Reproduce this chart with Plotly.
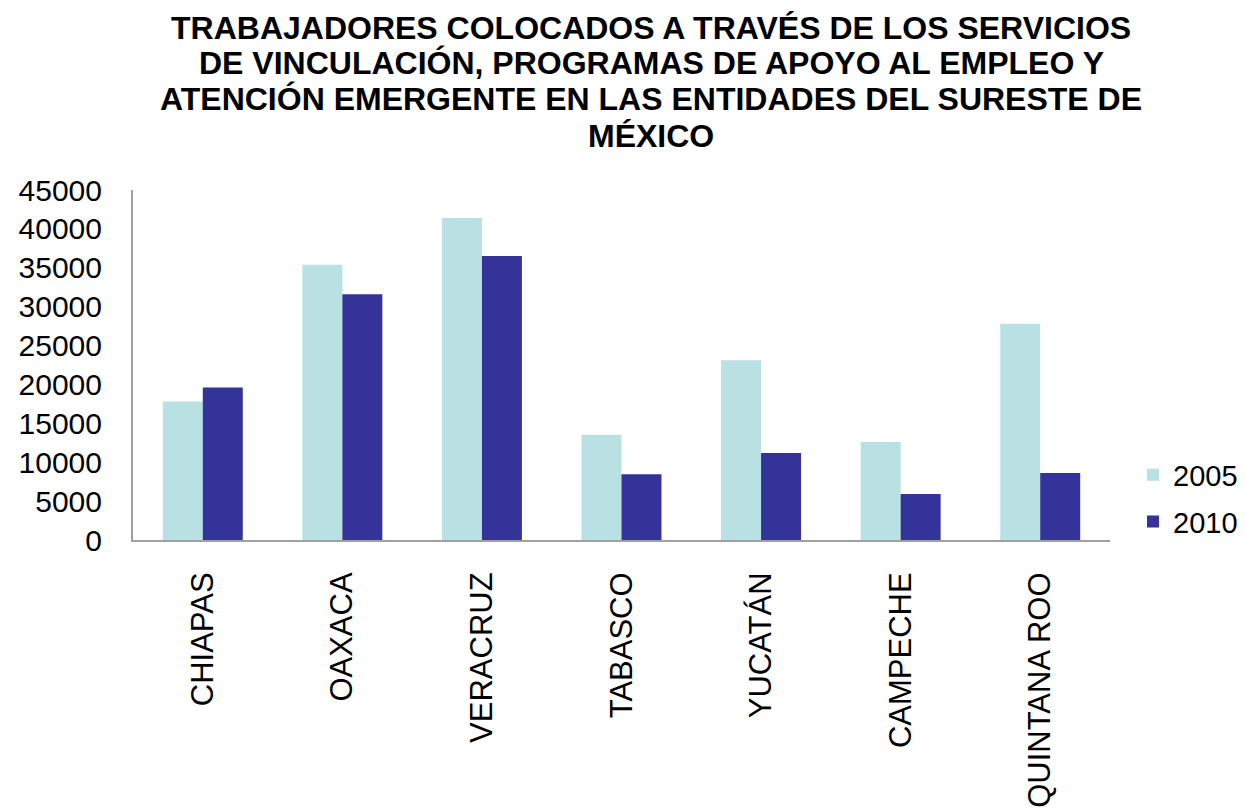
import plotly.graph_objects as go

categories = ["CHIAPAS", "OAXACA", "VERACRUZ", "TABASCO", "YUCATÁN", "CAMPECHE", "QUINTANA ROO"]
values_2005 = [17800, 35400, 41400, 13500, 23100, 12600, 27800]
values_2010 = [19600, 31600, 36500, 8450, 11200, 5900, 8600]
y_ticks = [0, 5000, 10000, 15000, 20000, 25000, 30000, 35000, 40000, 45000]
title_lines = [
    "TRABAJADORES COLOCADOS A TRAVÉS DE LOS SERVICIOS",
    "DE VINCULACIÓN, PROGRAMAS DE APOYO AL EMPLEO Y",
    "ATENCIÓN EMERGENTE EN LAS ENTIDADES DEL SURESTE DE",
    "MÉXICO",
]

FONT = "Liberation Sans, Arial, sans-serif"

fig = go.Figure()
fig.add_trace(go.Bar(name="2005", x=categories, y=values_2005, legendgroup="a",
                     marker=dict(color="#B9E0E3", line=dict(width=0))))
fig.add_trace(go.Bar(name="2010", x=categories, y=values_2010, legendgroup="b",
                     marker=dict(color="#333399", line=dict(width=0))))

# plot area spans page y 190 (top) .. 540 (bottom) -> 350 px
line_centers_px = [28, 63, 99, 136]
for txt, py in zip(title_lines, line_centers_px):
    fig.add_annotation(
        text="<b>" + txt + "</b>", xref="paper", yref="paper",
        x=(651 - 133) / 977, y=(540 - py) / 350,
        xanchor="center", yanchor="middle", showarrow=False,
        font=dict(size=32, family=FONT, color="black"),
    )

fig.update_layout(
    width=1237, height=801,
    barmode="group", bargap=0.427, bargroupgap=0,
    plot_bgcolor="white", paper_bgcolor="white",
    font=dict(family=FONT, color="black"),
    margin=dict(l=125, r=135, t=182, b=269, autoexpand=False),
    legend=dict(xref="container", yref="container",
                x=(1133 - 8) / 1237, y=1 - (498.5 - 8) / 801,
                xanchor="left", yanchor="middle",
                font=dict(size=29), tracegroupgap=6, itemwidth=30,
                bgcolor="rgba(0,0,0,0)"),
    showlegend=True,
)
fig.update_xaxes(
    showline=True, linecolor="#A0A0A0", linewidth=2,
    tickangle=-90, tickfont=dict(size=31),
    ticks="outside", ticklen=18, tickcolor="rgba(0,0,0,0)",
    showgrid=False,
)
fig.update_yaxes(
    range=[0, 45000], tickvals=y_ticks, tickformat="d",
    showline=True, linecolor="#A0A0A0", linewidth=2,
    tickfont=dict(size=30), ticks="outside", ticklen=23, tickcolor="rgba(0,0,0,0)",
    showgrid=False, zeroline=False,
)

fig.write_html("out.html")
